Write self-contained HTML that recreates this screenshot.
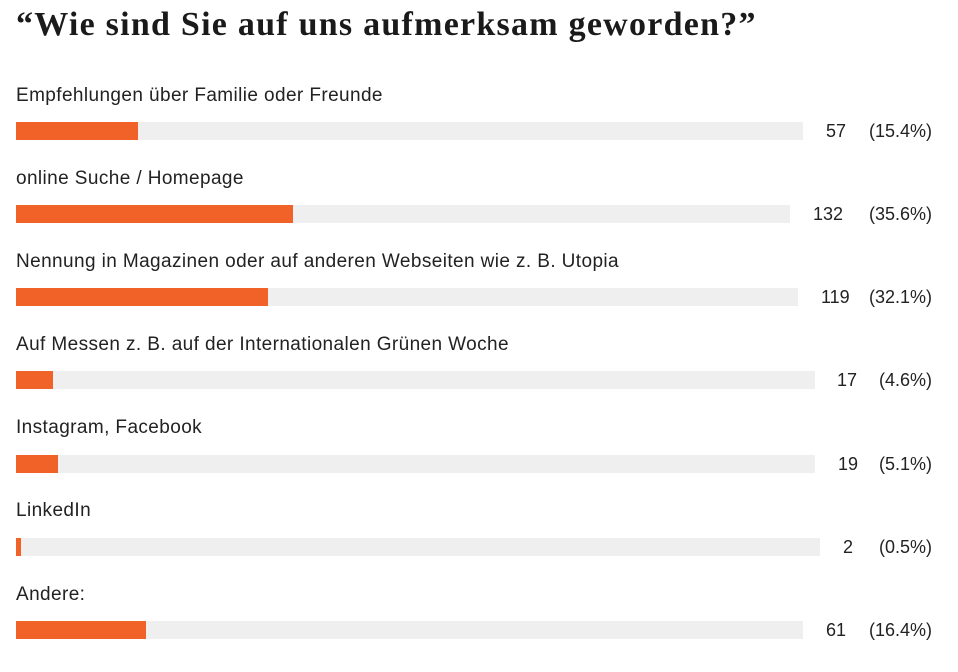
<!DOCTYPE html>
<html><head><meta charset="utf-8"><style>
body{margin:0;width:958px;height:672px;background:#fff;position:relative;overflow:hidden;font-family:"Liberation Sans",sans-serif;color:#222}
h1{position:absolute;left:16px;top:6px;margin:0;font-family:"Liberation Serif",serif;font-weight:bold;font-size:34px;color:#1a1a1a;letter-spacing:1.25px}
.l{position:absolute;left:16px;font-size:19px;letter-spacing:0.4px;color:#222}
.t{position:absolute;left:16px;height:18px;background:#efefef}
.b{position:absolute;left:0;top:0;height:18px;background:#f06227}
.c{position:absolute;font-size:18px;color:#222}
.p{position:absolute;right:26px;font-size:18px;color:#222}
</style></head><body>
<h1>“Wie sind Sie auf uns aufmerksam geworden?”</h1>

<div class="l" style="top:85px">Empfehlungen über Familie oder Freunde</div>
<div class="t" style="top:122px;width:787px"><div class="b" style="width:122px"></div></div>
<div class="c" style="top:121px;left:826px">57</div><div class="p" style="top:121px">(15.4%)</div>

<div class="l" style="top:168px">online Suche / Homepage</div>
<div class="t" style="top:205px;width:774px"><div class="b" style="width:277px"></div></div>
<div class="c" style="top:204px;left:813px">132</div><div class="p" style="top:204px">(35.6%)</div>

<div class="l" style="top:251px">Nennung in Magazinen oder auf anderen Webseiten wie z. B. Utopia</div>
<div class="t" style="top:288px;width:782px"><div class="b" style="width:252px"></div></div>
<div class="c" style="top:287px;left:821px">119</div><div class="p" style="top:287px">(32.1%)</div>

<div class="l" style="top:334px">Auf Messen z. B. auf der Internationalen Grünen Woche</div>
<div class="t" style="top:371px;width:799px"><div class="b" style="width:37px"></div></div>
<div class="c" style="top:370px;left:837px">17</div><div class="p" style="top:370px">(4.6%)</div>

<div class="l" style="top:417px">Instagram, Facebook</div>
<div class="t" style="top:455px;width:799px"><div class="b" style="width:42px"></div></div>
<div class="c" style="top:454px;left:838px">19</div><div class="p" style="top:454px">(5.1%)</div>

<div class="l" style="top:500px">LinkedIn</div>
<div class="t" style="top:538px;width:804px"><div class="b" style="width:5px"></div></div>
<div class="c" style="top:537px;left:843px">2</div><div class="p" style="top:537px">(0.5%)</div>

<div class="l" style="top:584px">Andere:</div>
<div class="t" style="top:621px;width:787px"><div class="b" style="width:130px"></div></div>
<div class="c" style="top:620px;left:826px">61</div><div class="p" style="top:620px">(16.4%)</div>
</body></html>
